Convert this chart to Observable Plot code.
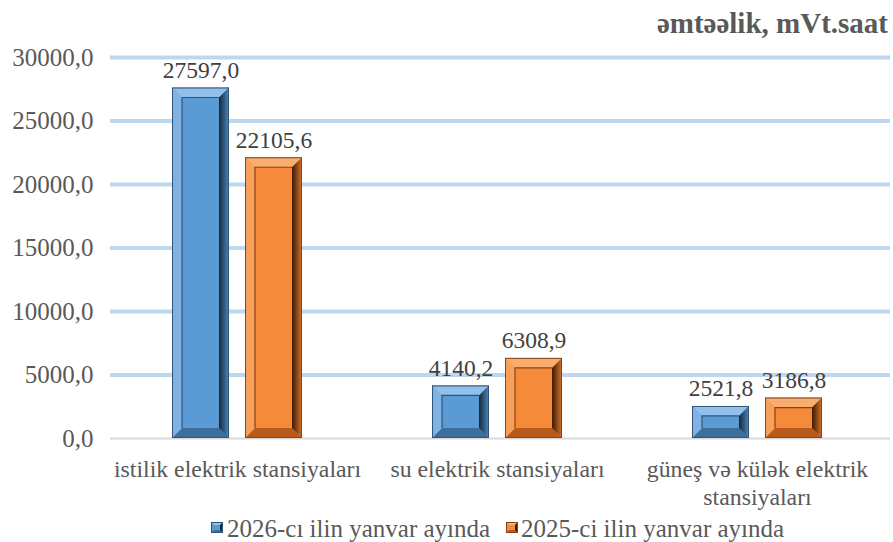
<!DOCTYPE html>
<html>
<head>
<meta charset="utf-8">
<script src="https://cdn.jsdelivr.net/npm/d3@7"></script>
<script src="https://cdn.jsdelivr.net/npm/@observablehq/plot@0.6"></script>
<style>
  html, body { margin: 0; padding: 0; background: #fff; }
  #wrap { position: relative; width: 893px; height: 542px; overflow: hidden; font-family: "Liberation Serif", "Times New Roman", serif; }
  #title { position: absolute; right: 5px; top: 9px; font-size: 29px; line-height: 29px; font-weight: bold; color: #595959; white-space: nowrap; }
  #chart { position: absolute; left: 0; top: 0; }
  .lg-icon { position: absolute; top: 522px; line-height: 0; }
  .lg-text { position: absolute; top: 516px; font-size: 25px; line-height: 25px; color: #595959; white-space: nowrap; }
</style>
</head>
<body>
<div id="wrap">
  <div id="chart"></div>
  <div id="title">əmtəəlik, mVt.saat</div>
</div>
<script>
const categories = ["istilik elektrik stansiyaları", "su elektrik stansiyaları", "güneş və külək elektrik stansiyaları"];
const categoryLabels = ["istilik elektrik stansiyaları", "su elektrik stansiyaları", "güneş və külək elektrik\nstansiyaları"];
const seriesNames = ["2026-cı ilin yanvar ayında", "2025-ci ilin yanvar ayında"];
const values2026 = [27597.0, 4140.2, 2521.8];
const values2025 = [22105.6, 6308.9, 3186.8];
const yTicks = [0, 5000, 10000, 15000, 20000, 25000, 30000];

const palettes = [
  {base: "#5B9BD5", top: "#93C0EA", left: "#80B3E3", right0: "#14283C", right1: "#4F88BD", bottom: "#3D6E9C", edge: "#2F5578"},
  {base: "#F58A3B", top: "#F9AE70", left: "#F8A05A", right0: "#3C1A04", right1: "#D8722A", bottom: "#B9591A", edge: "#8A4313"}
];

const fmt = v => d3.format(".1f")(v).replace(".", ",");
const data2026 = categories.map((c, i) => ({cat: c, value: values2026[i], series: seriesNames[0]}));
const data2025 = categories.map((c, i) => ({cat: c, value: values2025[i], series: seriesNames[1]}));

const plot = Plot.plot({
  width: 893,
  height: 542,
  marginLeft: 110,
  marginRight: 3,
  marginTop: 57,
  marginBottom: 104,
  style: {fontFamily: "'Liberation Serif', 'Times New Roman', serif", background: "transparent"},
  x: {domain: categories, padding: 0, axis: null},
  y: {domain: [0, 30000], axis: null},
  marks: [
    Plot.ruleY(yTicks.filter(t => t > 0), {y: d => d, stroke: "#BDD7EE", strokeWidth: 4}),
    Plot.ruleY([0], {stroke: "#D9D9D9", strokeWidth: 2}),
    Plot.text(yTicks, {y: d => d, frameAnchor: "left", dx: -17, textAnchor: "end", text: d => fmt(d), fontSize: 25, fill: "#595959"}),
    Plot.barY(data2026, {x: "cat", y: "value", fill: palettes[0].base, insetLeft: 62, insetRight: 141}),
    Plot.barY(data2025, {x: "cat", y: "value", fill: palettes[1].base, insetLeft: 135, insetRight: 68}),
    Plot.text(data2026, {x: "cat", y: "value", text: d => fmt(d.value), dx: -39.5, dy: -10, lineAnchor: "bottom", fontSize: 23.5, fill: "#404040"}),
    Plot.text(data2025, {x: "cat", y: "value", text: d => fmt(d.value), dx: 33.5, dy: -10, lineAnchor: "bottom", fontSize: 23.5, fill: "#404040"}),
    Plot.text(categories, {x: d => d, y: () => 0, text: d => categoryLabels[categories.indexOf(d)], dx: -3, dy: 18.5, lineAnchor: "top", lineHeight: 1.18, fontSize: 23.8, fill: "#595959"})
  ]
});
document.getElementById("chart").appendChild(plot);

// Bevel decoration on the bars drawn by Plot
const svgNS = "http://www.w3.org/2000/svg";
const defs = document.createElementNS(svgNS, "defs");
palettes.forEach((p, k) => {
  const g = document.createElementNS(svgNS, "linearGradient");
  g.setAttribute("id", "rg" + k);
  g.setAttribute("x1", "0"); g.setAttribute("x2", "1"); g.setAttribute("y1", "0"); g.setAttribute("y2", "0");
  [[0, p.right0], [1, p.right1]].forEach(([o, c]) => {
    const s = document.createElementNS(svgNS, "stop");
    s.setAttribute("offset", o); s.setAttribute("stop-color", c);
    g.appendChild(s);
  });
  defs.appendChild(g);
});
plot.insertBefore(defs, plot.firstChild);

function poly(parent, pts, fill) {
  const p = document.createElementNS(svgNS, "polygon");
  p.setAttribute("points", pts.map(q => q.join(",")).join(" "));
  p.setAttribute("fill", fill);
  parent.appendChild(p);
  return p;
}
function bevel(parent, x, y, w, h, pal, k, bMax) {
  const b = Math.min(bMax, h / 2.6, w / 3);
  poly(parent, [[x, y], [x + w, y], [x + w - b, y + b], [x + b, y + b]], pal.top);
  poly(parent, [[x, y + h], [x + w, y + h], [x + w - b, y + h - b], [x + b, y + h - b]], pal.bottom);
  poly(parent, [[x, y], [x + b, y + b], [x + b, y + h - b], [x, y + h]], pal.left);
  poly(parent, [[x + w, y], [x + w - b, y + b], [x + w - b, y + h - b], [x + w, y + h]], "url(#rg" + k + ")");
  const inner = document.createElementNS(svgNS, "path");
  inner.setAttribute("d", `M${x + b},${y + h - b}V${y + b}H${x + w - b}`);
  inner.setAttribute("stroke", pal.edge); inner.setAttribute("stroke-width", 1.2); inner.setAttribute("fill", "none");
  parent.appendChild(inner);
  const outer = document.createElementNS(svgNS, "rect");
  outer.setAttribute("x", x + 0.5); outer.setAttribute("y", y + 0.5);
  outer.setAttribute("width", Math.max(0, w - 1)); outer.setAttribute("height", Math.max(0, h - 1));
  outer.setAttribute("fill", "none"); outer.setAttribute("stroke", pal.edge); outer.setAttribute("stroke-width", 1);
  parent.appendChild(outer);
}
plot.querySelectorAll('g[aria-label="bar"]').forEach((g, k) => {
  Array.from(g.querySelectorAll("rect")).forEach(r => {
    const x = +r.getAttribute("x"), y = +r.getAttribute("y"), w = +r.getAttribute("width"), h = +r.getAttribute("height");
    bevel(g, x, y, w, h, palettes[k], k, 10);
  });
});

// Legend
const wrap = document.getElementById("wrap");
const iconX = [211, 506];
const textX = [227, 521];
seriesNames.forEach((name, k) => {
  const pal = palettes[k];
  const icon = document.createElement("div");
  icon.className = "lg-icon";
  icon.style.left = iconX[k] + "px";
  icon.innerHTML = `<svg width="12" height="11" viewBox="0 0 12 11"><rect x="0" y="0" width="12" height="11" fill="${pal.base}"/>
    <polygon points="0,0 12,0 9,3 3,3" fill="${pal.top}"/>
    <polygon points="0,11 12,11 9,8 3,8" fill="${pal.bottom}"/>
    <polygon points="12,0 9,3 9,8 12,11" fill="${pal.right0}"/>
    <rect x="0.5" y="0.5" width="11" height="10" fill="none" stroke="${pal.edge}" stroke-width="1"/></svg>`;
  wrap.appendChild(icon);
  const txt = document.createElement("div");
  txt.className = "lg-text";
  txt.style.left = textX[k] + "px";
  txt.textContent = name;
  wrap.appendChild(txt);
});
</script>
</body>
</html>
